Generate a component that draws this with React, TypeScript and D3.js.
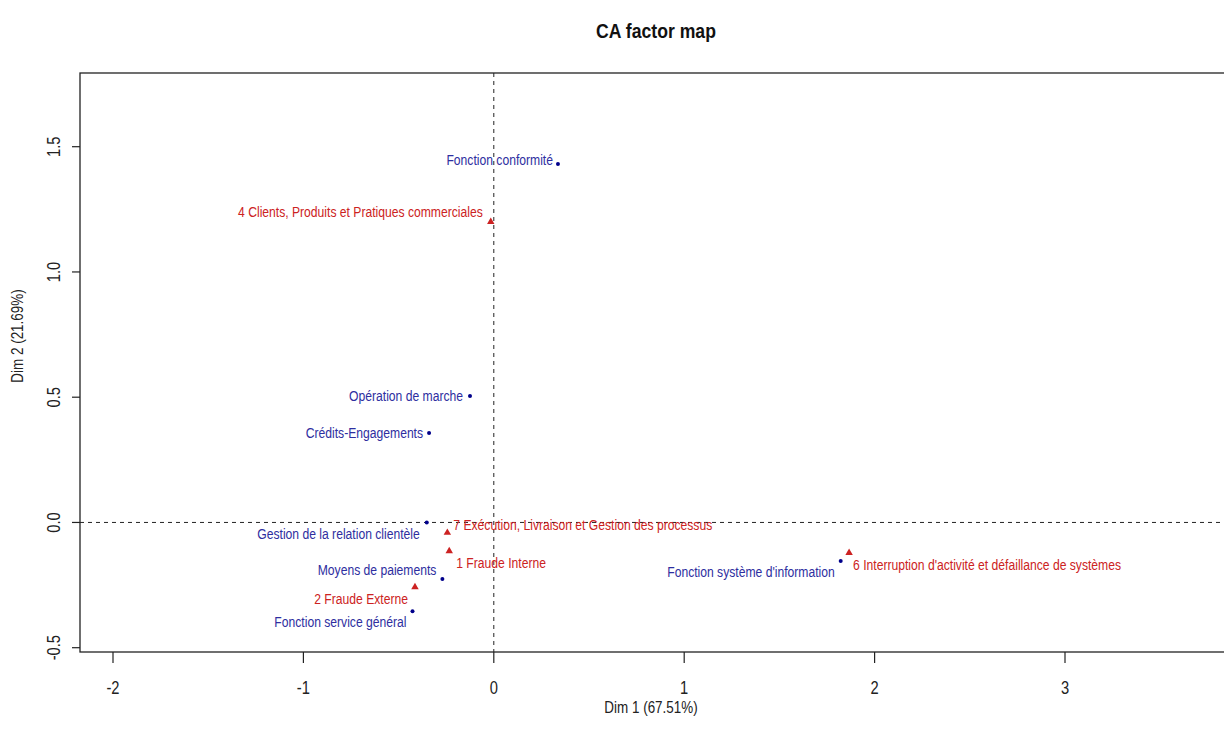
import React from "react";
import * as d3 from "d3";

// Row points (blue)
const rowLabels = [
  "Fonction conformité",
  "Opération de marche",
  "Crédits-Engagements",
  "Gestion de la relation clientèle",
  "Moyens de paiements",
  "Fonction service général",
  "Fonction système d'information",
];
const rowDim1 = [0.337, -0.125, -0.34, -0.352, -0.27, -0.427, 1.822];
const rowDim2 = [1.431, 0.505, 0.357, 0.0, -0.226, -0.354, -0.154];

// Column points (red)
const colLabels = [
  "4 Clients, Produits et Pratiques commerciales",
  "7 Exécution, Livraison et Gestion des processus",
  "1 Fraude Interne",
  "2 Fraude Externe",
  "6 Interruption d'activité et défaillance de systèmes",
];
const colDim1 = [-0.016, -0.244, -0.234, -0.414, 1.866];
const colDim2 = [1.2, -0.041, -0.114, -0.258, -0.121];

const xTicks = [-2, -1, 0, 1, 2, 3];
const yTicks = [-0.5, 0.0, 0.5, 1.0, 1.5];

const title = "CA factor map";
const xTitle = "Dim 1 (67.51%)";
const yTitle = "Dim 2 (21.69%)";

// label placement (anchor, dx, dy in px)
const rowPlace: [string, number, number][] = [
  ["end", -5, -4],
  ["end", -7, 0],
  ["end", -6, 0],
  ["end", -7, 12],
  ["end", -6, -9],
  ["end", -6, 11],
  ["end", -6, 11],
];
const colPlace: [string, number, number][] = [
  ["end", -8, -10],
  ["start", 6, -8],
  ["start", 7, 12],
  ["end", -7, 12],
  ["start", 4, 12],
];

const W = 1224;
const H = 745;
const left = 80;
const right = 1228;
const top = 73;
const bottom = 652;

const FONT = "'Liberation Sans', Arial, sans-serif";
const BLUE_TXT = "#2e2ea0";
const BLUE_PT = "#00008b";
const RED = "#cc2222";

function NText(props: {
  x: number;
  y: number;
  rotate?: number;
  anchor?: string;
  size: number;
  sx?: number;
  fill: string;
  bold?: boolean;
  children: React.ReactNode;
}) {
  const { x, y, rotate = 0, anchor = "middle", size, sx = 0.84, fill, bold, children } = props;
  return (
    <g transform={`translate(${x},${y}) rotate(${rotate}) scale(${sx},1)`}>
      <text
        textAnchor={anchor as any}
        dominantBaseline="central"
        fontSize={size}
        fill={fill}
        fontWeight={bold ? "bold" : "normal"}
      >
        {children}
      </text>
    </g>
  );
}

export default function App() {
  const x = d3.scaleLinear().domain([-2, 3]).range([113, 1065]);
  const y = d3.scaleLinear().domain([-0.5, 1.5]).range([647.7, 146.7]);
  const tri = d3.symbol().type(d3.symbolTriangle).size(24)() as string;
  const fmtY = (v: number) => v.toFixed(1);

  return (
    <svg
      width={W}
      height={H}
      style={{ position: "absolute", left: 0, top: 0, background: "#fff" }}
      fontFamily={FONT}
    >
      <rect x={0} y={0} width={W} height={H} fill="#fff" />
      <NText x={656} y={30} size={21} fill="#111" bold>
        {title}
      </NText>

      {/* dashed axes */}
      <line x1={x(0)} x2={x(0)} y1={top} y2={bottom} stroke="#222" strokeDasharray="4,4" strokeWidth={1} />
      <line x1={left} x2={right} y1={y(0)} y2={y(0)} stroke="#222" strokeDasharray="4,4" strokeWidth={1} />

      {/* box */}
      <rect x={left} y={top} width={right - left} height={bottom - top} fill="none" stroke="#222" strokeWidth={1.3} />

      {/* x axis */}
      {xTicks.map((t) => (
        <g key={"xt" + t}>
          <line x1={x(t)} x2={x(t)} y1={bottom} y2={bottom + 11} stroke="#222" strokeWidth={1.2} />
          <NText x={x(t)} y={688} size={17.5} fill="#222">
            {t}
          </NText>
        </g>
      ))}
      {/* y axis */}
      {yTicks.map((t) => (
        <g key={"yt" + t}>
          <line x1={left - 8} x2={left} y1={y(t)} y2={y(t)} stroke="#222" strokeWidth={1.2} />
          <NText x={54} y={y(t)} rotate={-90} size={17.5} fill="#222">
            {fmtY(t)}
          </NText>
        </g>
      ))}

      <NText x={651} y={708} size={16} fill="#222">
        {xTitle}
      </NText>
      <NText x={18} y={336} rotate={-90} size={16} fill="#222">
        {yTitle}
      </NText>

      {/* row points */}
      {rowLabels.map((lab, i) => (
        <g key={"r" + i}>
          <circle cx={x(rowDim1[i])} cy={y(rowDim2[i])} r={2} fill={BLUE_PT} />
          <NText
            x={x(rowDim1[i]) + rowPlace[i][1]}
            y={y(rowDim2[i]) + rowPlace[i][2]}
            anchor={rowPlace[i][0]}
            size={15}
            sx={0.81}
            fill={BLUE_TXT}
          >
            {lab}
          </NText>
        </g>
      ))}

      {/* column points */}
      {colLabels.map((lab, i) => (
        <g key={"c" + i}>
          <path d={tri} transform={`translate(${x(colDim1[i])},${y(colDim2[i])})`} fill={RED} />
          <NText
            x={x(colDim1[i]) + colPlace[i][1]}
            y={y(colDim2[i]) + colPlace[i][2]}
            anchor={colPlace[i][0]}
            size={15}
            sx={0.81}
            fill={RED}
          >
            {lab}
          </NText>
        </g>
      ))}
    </svg>
  );
}
